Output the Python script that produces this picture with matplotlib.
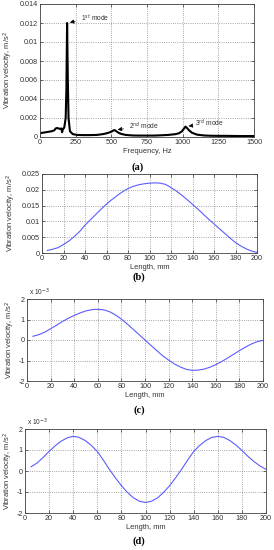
import matplotlib.pyplot as plt
import numpy as np
from matplotlib.ticker import FuncFormatter

plt.rcParams['font.family'] = ['Liberation Sans', 'DejaVu Sans']

# (a) frequency spectrum
freq = [0, 20, 40, 60, 80, 100, 110, 120, 130, 140, 150, 155, 160, 170, 180, 185,
        190, 195, 200, 210, 230, 260, 300, 350, 400, 440, 470, 490, 505, 515, 525, 535,
        550, 570, 600, 650, 700, 750, 800, 850, 900, 950, 975, 995, 1010, 1020,
        1030, 1045, 1065, 1100, 1150, 1200, 1250, 1300, 1350, 1400, 1450, 1500]
spectrum = [0.0004, 0.00045, 0.0005, 0.00055, 0.0006, 0.0007, 0.0009, 0.00095, 0.0009,
            0.00085, 0.0009, 0.0005, 0.0008, 0.001, 0.002, 0.005, 0.012, 0.006, 0.002,
            0.0006, 0.0003, 0.00022, 0.0002, 0.0002, 0.00022, 0.0003, 0.0004, 0.0005,
            0.0006, 0.0007, 0.00072, 0.0006, 0.00045, 0.00032, 0.00022, 0.00016, 0.00015,
            0.00015, 0.00015, 0.00018, 0.00022, 0.0003, 0.0004, 0.0006, 0.0009, 0.0011,
            0.00095, 0.0007, 0.00045, 0.00025, 0.00016, 0.00013, 0.00012, 0.00012, 0.00011,
            0.0001, 0.0001, 0.0001]

# mode shapes along the length
length = [5, 10, 15, 20, 25, 30, 35, 40, 45, 50, 55, 60, 65, 70, 75, 80, 85, 90, 95, 100,
          105, 110, 115, 120, 125, 130, 135, 140, 145, 150, 155, 160, 165, 170, 175, 180,
          185, 190, 195, 200]
mode1 = [0.0008, 0.0012, 0.0017, 0.0027, 0.0038, 0.0052, 0.0068, 0.0088, 0.0105, 0.0122,
         0.0139, 0.0155, 0.0169, 0.0182, 0.0194, 0.0204, 0.0211, 0.0216, 0.0219, 0.0221,
         0.0222, 0.0221, 0.0217, 0.0207, 0.0196, 0.0183, 0.0169, 0.0154, 0.0139, 0.0123,
         0.0107, 0.0092, 0.0077, 0.0062, 0.0047, 0.0033, 0.0022, 0.0013, 0.0006, 0.0002]
mode2 = [0.18, 0.26, 0.38, 0.55, 0.72, 0.9, 1.06, 1.2, 1.32, 1.42, 1.48, 1.5, 1.47, 1.38,
         1.22, 1.02, 0.78, 0.52, 0.26, 0.0, -0.26, -0.52, -0.77, -0.98, -1.17, -1.32, -1.43,
         -1.48, -1.47, -1.42, -1.33, -1.2, -1.05, -0.88, -0.7, -0.52, -0.35, -0.2, -0.08, -0.02]
mode3 = [0.2, 0.38, 0.64, 0.93, 1.2, 1.42, 1.58, 1.65, 1.6, 1.45, 1.22, 0.93, 0.52, 0.08,
         -0.32, -0.7, -1.02, -1.28, -1.44, -1.5, -1.44, -1.28, -1.02, -0.7, -0.32, 0.08, 0.52,
         0.93, 1.22, 1.45, 1.6, 1.65, 1.6, 1.45, 1.24, 0.98, 0.7, 0.45, 0.24, 0.08]
mode2 = [v * 1e-3 for v in mode2]
mode3 = [v * 1e-3 for v in mode3]

W, H = 274, 550
fig = plt.figure(figsize=(W / 100, H / 100), dpi=100)

TICK = 5.2
LAB = 5.4
BLUE = '#5c5cff'


def px_axes(left, top, right, bottom):
    return fig.add_axes([left / W, 1 - bottom / H, (right - left) / W, (bottom - top) / H])


def style(ax):
    ax.tick_params(direction='in', labelsize=TICK, length=2, width=0.5, pad=1.5,
                   colors='#333333', top=True, right=True)
    ax.grid(True, linestyle=':', color='#888888', linewidth=0.6)
    for s in ax.spines.values():
        s.set_linewidth(0.6)
        s.set_color('#444444')
    ax.yaxis.set_major_formatter(FuncFormatter(lambda v, p: '%g' % round(v, 6)))


# (a)
ax = px_axes(40, 4, 254, 137)
ax.plot(freq, spectrum, color='black', linewidth=1.5)
ax.set_xlim(0, 1500)
ax.set_ylim(0, 0.014)
ax.set_xticks(np.arange(0, 1501, 250))
ax.set_yticks(np.arange(0, 0.0141, 0.002))
style(ax)
ax.set_xlabel('Frequency, Hz', fontsize=LAB, labelpad=1.5, color='#333333')
ax.set_ylabel('Vibration velocity, m/s$^2$', fontsize=LAB, labelpad=3, color='#333333')
arrow = dict(arrowstyle='-|>', color='black', lw=0.5, mutation_scale=6)
ax.annotate('1$^{st}$ mode', xy=(190, 0.012), xytext=(285, 0.0126), fontsize=4.8,
            color='#333333', va='center', arrowprops=arrow)
ax.annotate('2$^{nd}$ mode', xy=(525, 0.00075), xytext=(625, 0.0011), fontsize=4.8,
            color='#333333', va='center', arrowprops=arrow)
ax.annotate('3$^{rd}$ mode', xy=(1022, 0.00112), xytext=(1085, 0.0014), fontsize=4.8,
            color='#333333', va='center', arrowprops=arrow)
fig.text(138 / W, 1 - 167 / H, '(a)', ha='center', va='center', fontsize=7.5,
         fontweight='bold', family='Liberation Serif')

# (b)
ax = px_axes(42, 174, 257, 253)
ax.plot(length, mode1, color=BLUE, linewidth=0.8)
ax.set_xlim(0, 200)
ax.set_ylim(0, 0.025)
ax.set_xticks(np.arange(0, 201, 20))
ax.set_yticks(np.arange(0, 0.0251, 0.005))
style(ax)
ax.set_xlabel('Length, mm', fontsize=LAB, labelpad=1.5, color='#333333')
ax.set_ylabel('Vibration velocity, m/s$^2$', fontsize=LAB, labelpad=3, color='#333333')
fig.text(139 / W, 1 - 277 / H, '(b)', ha='center', va='center', fontsize=7.5,
         fontweight='bold', family='Liberation Serif')

# (c) and (d)
for (l, t, r, b), vals, lab, ly in [((27, 299, 263, 381), mode2, '(c)', 410),
                                    ((25, 429, 266, 513), mode3, '(d)', 541)]:
    ax = px_axes(l, t, r, b)
    ax.plot(length, vals, color=BLUE, linewidth=0.8)
    ax.set_xlim(0, 200)
    ax.set_ylim(-0.002, 0.002)
    ax.set_xticks(np.arange(0, 201, 20))
    ax.set_yticks(np.arange(-0.002, 0.00201, 0.001))
    style(ax)
    ax.yaxis.set_major_formatter(FuncFormatter(lambda v, p: '%g' % round(v * 1e3, 6)))
    ax.text(0.01, 1.01, 'x 10$^{-3}$', transform=ax.transAxes, fontsize=4.8,
            color='#333333', va='bottom', ha='left')
    ax.set_xlabel('Length, mm', fontsize=LAB, labelpad=1.5, color='#333333')
    ax.set_ylabel('Vibration velocity, m/s$^2$', fontsize=LAB, labelpad=1, color='#333333')
    fig.text(139 / W, 1 - ly / H, lab, ha='center', va='center', fontsize=7.5,
             fontweight='bold', family='Liberation Serif')

fig.savefig('out.png', dpi=100)
